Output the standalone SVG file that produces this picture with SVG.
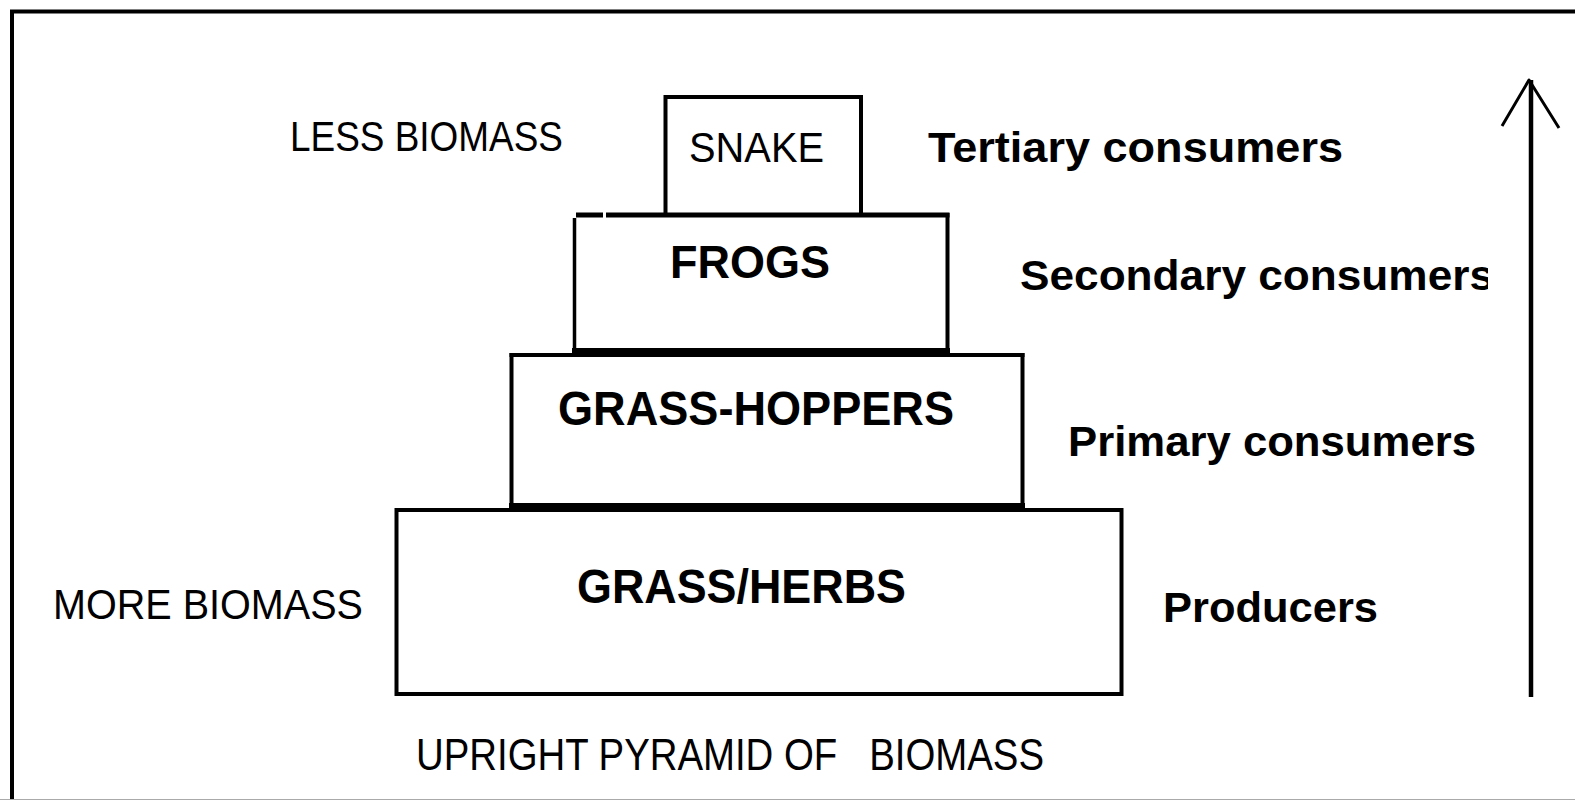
<svg xmlns="http://www.w3.org/2000/svg" width="1575" height="800" viewBox="0 0 1575 800">
<style>
  .ln { fill: none; stroke: #000; stroke-linecap: butt; }
  .band { fill: #000; }
  .reg { font-family: "Liberation Sans", Arial, sans-serif; font-weight: normal; fill: #000; }
  .bold { font-family: "Liberation Sans", Arial, sans-serif; font-weight: bold; fill: #000; }
</style>
<defs>
  <clipPath id="clipSec"><rect x="1000" y="240" width="488" height="70"/></clipPath>
</defs>
<rect x="0" y="0" width="1575" height="800" fill="#fff"/>
<g id="frame">
  <path class="ln" d="M12 800 V11.5 H1575" stroke-width="4"/>
  <line x1="0" y1="799.5" x2="1575" y2="799.5" stroke="#aaa" stroke-width="1"/>
</g>
<g id="snake">
  <path class="ln" d="M665.5 215 V97 H861 V215" stroke-width="4"/>
  <text class="reg" x="689" y="162" font-size="43" textLength="135" lengthAdjust="spacingAndGlyphs">SNAKE</text>
</g>
<g id="frogs">
  <path class="ln" d="M576 215 H603 M606 215 H949.5" stroke-width="5"/>
  <path class="ln" d="M574.5 218 V352" stroke-width="3.5"/>
  <path class="ln" d="M947.5 213 V352" stroke-width="4"/>
  <rect class="band" x="572" y="348" width="378" height="9"/>
  <text class="bold" x="670" y="278" font-size="47" textLength="160" lengthAdjust="spacingAndGlyphs">FROGS</text>
</g>
<g id="grasshoppers">
  <path class="ln" d="M509.5 355 H1024.5" stroke-width="4"/>
  <path class="ln" d="M511.5 353 V508" stroke-width="4"/>
  <path class="ln" d="M1022.5 353 V508" stroke-width="4"/>
  <rect class="band" x="509" y="503" width="516" height="9"/>
  <text class="bold" x="558" y="425" font-size="48" textLength="396" lengthAdjust="spacingAndGlyphs">GRASS-HOPPERS</text>
</g>
<g id="grassherbs">
  <rect class="ln" x="396.5" y="510" width="725" height="184" stroke-width="4"/>
  <text class="bold" x="577" y="603" font-size="48" textLength="329" lengthAdjust="spacingAndGlyphs">GRASS/HERBS</text>
</g>
<g id="labels">
  <text class="reg" x="290" y="151" font-size="42" textLength="273" lengthAdjust="spacingAndGlyphs">LESS BIOMASS</text>
  <text class="reg" x="53" y="619" font-size="43" textLength="310" lengthAdjust="spacingAndGlyphs">MORE BIOMASS</text>
  <text class="reg" x="416" y="770" font-size="44" xml:space="preserve" textLength="628" lengthAdjust="spacingAndGlyphs">UPRIGHT PYRAMID OF   BIOMASS</text>
  <text class="bold" x="928" y="162" font-size="43" textLength="415" lengthAdjust="spacingAndGlyphs">Tertiary consumers</text>
  <text class="bold" x="1020" y="290" font-size="42" textLength="474" lengthAdjust="spacingAndGlyphs" clip-path="url(#clipSec)">Secondary consumers</text>
  <text class="bold" x="1068" y="456" font-size="43" textLength="408" lengthAdjust="spacingAndGlyphs">Primary consumers</text>
  <text class="bold" x="1163" y="622" font-size="42" textLength="215" lengthAdjust="spacingAndGlyphs">Producers</text>
</g>
<g id="connectors">
  <path class="ln" d="M1531 697 V80" stroke-width="4.5"/>
  <path class="ln" d="M1502 126 L1529 80 L1559 128" stroke-width="3" stroke-linejoin="round" stroke-linecap="round"/>
</g>
</svg>
